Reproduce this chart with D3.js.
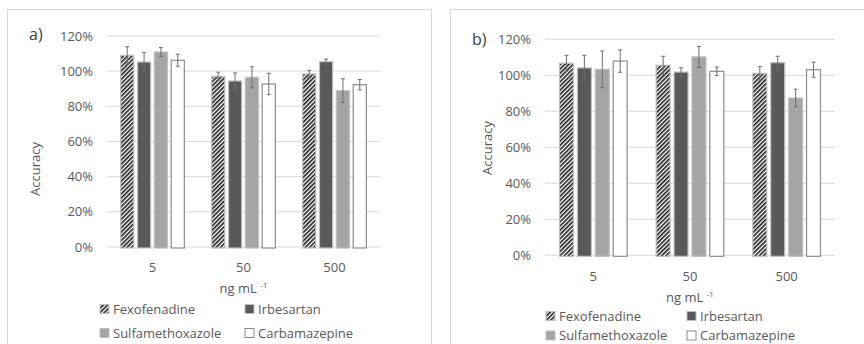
<!DOCTYPE html>
<html>
<head>
<meta charset="utf-8">
<script src="https://cdn.jsdelivr.net/npm/d3@7"></script>
<style>
  body { margin: 0; background: #fff; }
  svg { display: block; font-family: "Open Sans", sans-serif; }
</style>
</head>
<body>
<div id="chart"></div>
<script>
const width = 864;
const height = 344;

// categories and series
const categories = ["5", "50", "500"];
const seriesNames = ["Fexofenadine", "Irbesartan", "Sulfamethoxazole", "Carbamazepine"];
const yTicks = [0, 20, 40, 60, 80, 100, 120];

// panel a) accuracy (%) and error
const aFexofenadine = [109.0, 97.1, 98.4];
const aIrbesartan = [105.2, 94.4, 105.4];
const aSulfamethoxazole = [110.9, 96.5, 88.9];
const aCarbamazepine = [106.2, 92.7, 92.3];
const aFexofenadineErr = [4.9, 2.3, 2.1];
const aIrbesartanErr = [5.5, 4.6, 1.5];
const aSulfamethoxazoleErr = [2.5, 6.0, 6.8];
const aCarbamazepineErr = [3.4, 6.1, 3.0];

// panel b)
const bFexofenadine = [106.7, 105.6, 101.1];
const bIrbesartan = [104.1, 101.8, 107.0];
const bSulfamethoxazole = [103.3, 110.2, 87.4];
const bCarbamazepine = [107.9, 102.2, 103.1];
const bFexofenadineErr = [4.4, 5.0, 3.7];
const bIrbesartanErr = [7.0, 2.4, 3.6];
const bSulfamethoxazoleErr = [10.2, 5.8, 4.9];
const bCarbamazepineErr = [6.2, 2.4, 4.2];

const textColor = "#595959";
const gridColor = "#d9d9d9";
const fills = ["url(#hatch)", "#595959", "#a5a5a5", "#ffffff"];
const strokes = ["#bfbfbf", "#bfbfbf", "#bfbfbf", "#8c8c8c"];

const svg = d3.select("#chart").append("svg")
    .attr("width", width)
    .attr("height", height);

// diagonal hatch for Fexofenadine
const pattern = svg.append("defs").append("pattern")
    .attr("id", "hatch")
    .attr("patternUnits", "userSpaceOnUse")
    .attr("width", 3)
    .attr("height", 3)
    .attr("patternTransform", "rotate(45)");
pattern.append("rect").attr("width", 3).attr("height", 3).attr("fill", "#fff");
pattern.append("rect").attr("width", 1.6).attr("height", 3).attr("fill", "#1a1a1a");

function drawPanel(p) {
    const g = svg.append("g");

    // frame
    g.append("rect")
        .attr("x", p.frame[0]).attr("y", p.frame[1])
        .attr("width", p.frame[2]).attr("height", p.frame[3])
        .attr("fill", "none").attr("stroke", gridColor);

    const x = d3.scaleBand().domain(categories).range([p.left, p.right]);
    const xInner = d3.scaleBand().domain(seriesNames)
        .range([0, x.bandwidth()]).paddingInner(0.22).paddingOuter(0.81);
    const y = d3.scaleLinear().domain([0, 120]).range([p.bottom, p.top]);

    // gridlines
    g.selectAll(".grid").data(yTicks).enter().append("line")
        .attr("x1", p.left).attr("x2", p.right)
        .attr("y1", d => y(d)).attr("y2", d => y(d))
        .attr("stroke", gridColor).attr("stroke-width", 1);

    // y tick labels
    g.selectAll(".ytick").data(yTicks).enter().append("text")
        .attr("x", p.left - 14).attr("y", d => y(d))
        .attr("dy", "0.35em").attr("text-anchor", "end")
        .attr("fill", textColor).attr("font-size", 13)
        .text(d => d + "%");

    // bars
    const rows = [];
    categories.forEach((c, i) => {
        seriesNames.forEach((s, j) => {
            rows.push({ cat: c, s: s, j: j, v: p.values[j][i], e: p.errors[j][i] });
        });
    });

    g.selectAll(".bar").data(rows).enter().append("rect")
        .attr("x", d => x(d.cat) + xInner(d.s))
        .attr("y", d => y(d.v))
        .attr("width", xInner.bandwidth())
        .attr("height", d => y(0) - y(d.v) + 1)
        .attr("fill", d => fills[d.j])
        .attr("stroke", d => strokes[d.j])
        .attr("stroke-width", 1.2);

    // error bars
    const err = g.selectAll(".err").data(rows).enter().append("g")
        .attr("stroke", "#6e6e6e").attr("stroke-width", 1);
    err.append("line")
        .attr("x1", d => x(d.cat) + xInner(d.s) + xInner.bandwidth() / 2)
        .attr("x2", d => x(d.cat) + xInner(d.s) + xInner.bandwidth() / 2)
        .attr("y1", d => y(d.v + d.e)).attr("y2", d => y(d.v - d.e));
    [1, -1].forEach(sign => {
        err.append("line")
            .attr("x1", d => x(d.cat) + xInner(d.s) + xInner.bandwidth() / 2 - 2)
            .attr("x2", d => x(d.cat) + xInner(d.s) + xInner.bandwidth() / 2 + 2)
            .attr("y1", d => y(d.v + sign * d.e)).attr("y2", d => y(d.v + sign * d.e));
    });

    // x tick labels
    g.selectAll(".xtick").data(categories).enter().append("text")
        .attr("x", d => x(d) + x.bandwidth() / 2)
        .attr("y", p.xTickY).attr("dy", "0.35em")
        .attr("text-anchor", "middle")
        .attr("fill", textColor).attr("font-size", 13)
        .text(d => d);

    // x title
    const xt = g.append("text")
        .attr("x", (p.left + p.right) / 2).attr("y", p.xTitleY).attr("dy", "0.35em")
        .attr("text-anchor", "middle")
        .attr("fill", textColor).attr("font-size", 13);
    xt.append("tspan").text("ng mL ");
    xt.append("tspan").attr("font-size", 8).attr("dy", "-0.6em").text("-1");

    // y title
    g.append("text")
        .attr("transform", `translate(${p.yTitleX},${p.yTitleY}) rotate(-90)`)
        .attr("dy", "0.35em").attr("text-anchor", "middle")
        .attr("fill", textColor).attr("font-size", 13)
        .text("Accuracy");

    // panel label
    g.append("text")
        .attr("x", p.labelX).attr("y", p.labelY).attr("dy", "0.35em")
        .attr("fill", "#404040").attr("font-size", 16)
        .text(p.label);

    // legend
    seriesNames.forEach((s, j) => {
        const lx = p.legendX[j % 2];
        const ly = p.legendY[Math.floor(j / 2)];
        g.append("rect")
            .attr("x", lx).attr("y", ly - 4.5)
            .attr("width", 9).attr("height", 9)
            .attr("fill", fills[j]).attr("stroke", strokes[j]).attr("stroke-width", 1);
        g.append("text")
            .attr("x", lx + 13).attr("y", ly).attr("dy", "0.35em")
            .attr("fill", textColor).attr("font-size", 13)
            .text(s);
    });
}

drawPanel({
    label: "a)", labelX: 29, labelY: 34,
    frame: [7.5, 9.5, 424, 400],
    left: 107, right: 380, top: 36, bottom: 247,
    values: [aFexofenadine, aIrbesartan, aSulfamethoxazole, aCarbamazepine],
    errors: [aFexofenadineErr, aIrbesartanErr, aSulfamethoxazoleErr, aCarbamazepineErr],
    xTickY: 267, xTitleY: 288,
    yTitleX: 35, yTitleY: 169,
    legendX: [100, 245], legendY: [309, 333]
});

drawPanel({
    label: "b)", labelX: 472, labelY: 39,
    frame: [450.5, 9.5, 450, 400],
    left: 545, right: 835, top: 39.3, bottom: 255.3,
    values: [bFexofenadine, bIrbesartan, bSulfamethoxazole, bCarbamazepine],
    errors: [bFexofenadineErr, bIrbesartanErr, bSulfamethoxazoleErr, bCarbamazepineErr],
    xTickY: 276, xTitleY: 297,
    yTitleX: 487, yTitleY: 148,
    legendX: [546, 687], legendY: [316, 335.5]
});
</script>
</body>
</html>
